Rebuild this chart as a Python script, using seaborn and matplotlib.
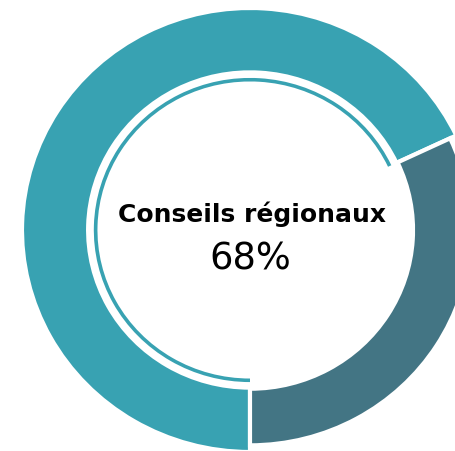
import numpy as np
import matplotlib
matplotlib.use("Agg")
import matplotlib.pyplot as plt
import seaborn as sns

# donnees
categories = ["Conseils régionaux", "Autres"]
shares = [68, 32]
center_label = "Conseils régionaux"
center_value = "68%"

sns.set_theme(style="white")
plt.rcParams['font.family'] = ['DejaVu Sans']

teal = "#38A2B2"
slate = "#437584"

fig = plt.figure(figsize=(4.56, 4.51), dpi=100)
ax = fig.add_axes([0, 0, 1, 1])

# depart calcule pour que la part principale finisse en bas (270 deg)
start = 270 - 360 * shares[0] / sum(shares)

wedges, _ = ax.pie(shares, colors=[teal, slate], startangle=start, counterclock=True,
                   radius=1.0, wedgeprops=dict(width=0.29, edgecolor="white", linewidth=3))
# la part sombre est un peu plus fine
wedges[1].set_radius(0.97)
wedges[1].set_width(0.255)

# fin anneau interieur sur la part principale
arc, _ = ax.pie(shares, colors=[teal, "none"], startangle=start, counterclock=True,
                radius=0.685, wedgeprops=dict(width=0.016, edgecolor="none", linewidth=0))

ax.text(0.01, 0.07, center_label, ha="center", va="center", fontsize=18,
        fontweight="bold", color="black")
ax.text(0.0, -0.13, center_value, ha="center", va="center", fontsize=26.5,
        color="black")

ax.set_aspect("auto")
ax.set_xlim(-250 / 228, 206 / 228)
ax.set_ylim(-221 / 222, 230 / 222)
ax.axis("off")

fig.savefig("out.png", dpi=100, facecolor="white")
